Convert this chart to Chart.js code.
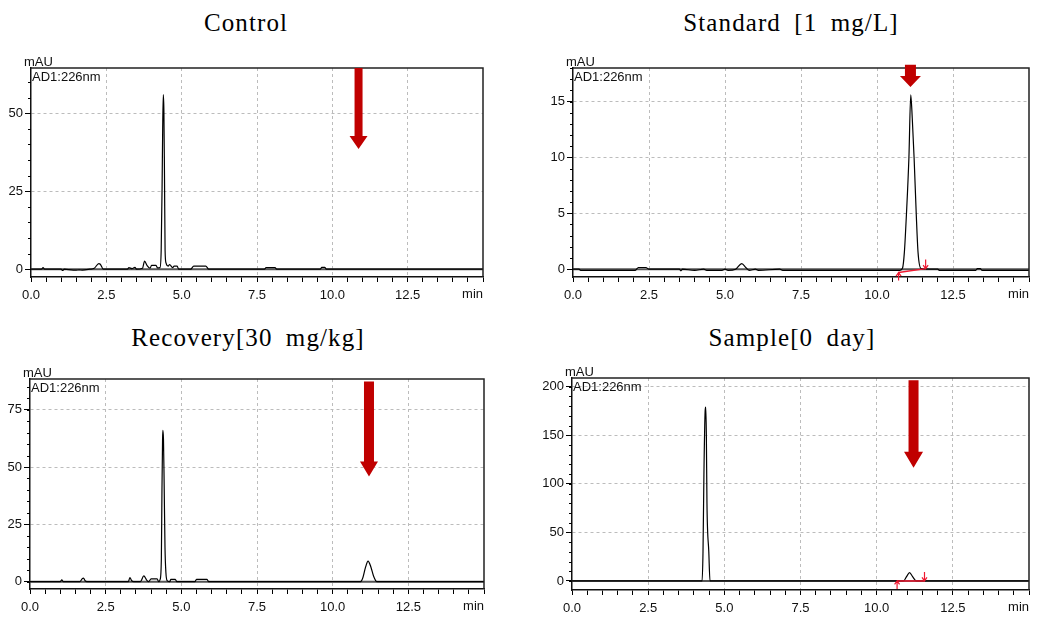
<!DOCTYPE html>
<html><head><meta charset="utf-8">
<script src="https://cdn.jsdelivr.net/npm/chart.js@4/dist/chart.umd.min.js"></script>
<style>
body{margin:0;width:1052px;height:625px;background:#fff;position:relative;overflow:hidden}
.t{position:absolute;font-family:'Liberation Serif','Times New Roman',serif;font-size:25px;letter-spacing:1.1px;word-spacing:6px;color:#000;white-space:nowrap;transform:translateX(-50%);line-height:28px}
canvas{position:absolute}
</style></head><body>
<div class="t" id="t0" style="left:246px;top:9px"></div>
<div class="t" id="t1" style="left:791px;top:9px"></div>
<div class="t" id="t2" style="left:248px;top:324px"></div>
<div class="t" id="t3" style="left:792px;top:324px"></div>
<canvas id="c0" width="500" height="272" style="left:0;top:40px"></canvas>
<canvas id="c1" width="522" height="272" style="left:530px;top:40px"></canvas>
<canvas id="c2" width="500" height="273" style="left:0;top:352px"></canvas>
<canvas id="c3" width="522" height="273" style="left:530px;top:352px"></canvas>
<script>
// ---- text ----
const panelTitles = ['Control', 'Standard [1 mg/L]', 'Recovery[30 mg/kg]', 'Sample[0 day]'];
const detectorLabel = 'AD1:226nm';
const yUnit = 'mAU';
const xUnit = 'min';

// ---- x axis (minutes) ----
const xRange = [0, 15];
const xMajorValues = [0, 2.5, 5, 7.5, 10, 12.5];
const xTickLabels = ['0.0', '2.5', '5.0', '7.5', '10.0', '12.5'];
const xMinorStep = 0.5;

// ---- y axes ----
const yRangeControl = [-2.5, 64.5];
const yTicksControl = [0, 25, 50];
const yRangeStandard = [-0.7, 18];
const yTicksStandard = [0, 5, 10, 15];
const yRangeRecovery = [-3.2, 88.4];
const yTicksRecovery = [0, 25, 50, 75];
const yRangeSample = [-9.3, 209];
const yTicksSample = [0, 50, 100, 150, 200];
const yMinorSteps = [5, 1, 5, 10];

// ---- chromatograms (time in min, signal in mAU) ----
const timeControl = [0, 0.35, 0.4, 0.45, 1.0, 1.05, 1.1, 1.4, 1.5, 1.6,
  1.7, 1.95, 2.1, 2.25, 2.3, 2.4, 3.2, 3.25, 3.35, 3.45,
  3.5, 3.7, 3.77, 3.85, 3.95, 4.0, 4.15, 4.2, 4.28, 4.32,
  4.35, 4.37, 4.39, 4.41, 4.43, 4.45, 4.48, 4.55, 4.6, 4.7,
  4.75, 4.85, 4.9, 5.3, 5.4, 5.8, 5.9, 7.75, 7.8, 8.1,
  8.15, 9.6, 9.65, 9.75, 9.8, 15];
const mauControl = [0, 0, 0.5, 0, 0, -0.4, 0, -0.3, -0.3, -0.2,
  -0.3, 0, 0.3, 1.8, 1.6, 0, 0, 0.5, 0.2, 0.6,
  0, 0.3, 2.6, 1.2, 0.3, 1.2, 1.2, 0.4, 0.5, 6,
  26, 45, 56, 51, 30, 6, 2, 1, 1.5, 0.5,
  1.0, 1.0, 0, 0, 1.0, 1.0, 0, 0, 0.5, 0.5,
  0, 0, 0.6, 0.6, 0, 0];

const timeStandard = [0, 0.2, 0.25, 2.05, 2.15, 2.4, 2.5, 3.5, 3.55, 3.6,
  4.0, 4.3, 4.4, 4.9, 5.0, 5.1, 5.35, 5.55, 5.7, 5.8,
  6.0, 6.1, 6.8, 6.9, 10.75, 10.84, 10.9, 10.97, 11.05, 11.11,
  11.16, 11.22, 11.29, 11.35, 11.45, 12.0, 12.05, 13.25, 13.3, 13.4,
  13.45, 15];
const mauStandard = [0, 0, -0.1, -0.1, 0.15, 0.15, 0, 0, -0.15, 0,
  -0.1, 0, -0.1, -0.1, 0, -0.1, 0, 0.5, 0.1, -0.1,
  0, -0.1, 0, -0.1, -0.1, 0.1, 1.5, 5, 10, 15.6,
  13.5, 10, 5, 1.5, 0.05, 0, -0.1, -0.1, 0.05, 0.05,
  -0.1, -0.1];

const timeRecovery = [0, 1.0, 1.05, 1.1, 1.65, 1.72, 1.77, 1.82, 1.88, 3.25,
  3.3, 3.36, 3.42, 3.65, 3.76, 3.85, 3.92, 4.0, 4.2, 4.25,
  4.3, 4.34, 4.36, 4.38, 4.39, 4.41, 4.43, 4.46, 4.49, 4.53,
  4.62, 4.65, 4.8, 4.85, 5.45, 5.5, 5.85, 5.9, 10.92, 11.0,
  11.08, 11.17, 11.26, 11.35, 11.46, 15];
const mauRecovery = [0, 0, 0.8, 0, 0, 1.2, 1.5, 0.4, 0, 0,
  1.8, 0.4, 0, 0, 2.5, 0.8, 0, 1.2, 1.2, 0,
  1, 10, 40, 62, 66, 62, 45, 15, 4, 0.5,
  0, 1, 1, 0, 0, 1, 1, 0, 0, 1.8,
  6, 9, 6.5, 2.5, 0, 0];

const timeSample = [0, 4.27, 4.30, 4.33, 4.37, 4.39, 4.41, 4.43, 4.49, 4.53,
  10.88, 10.98, 11.08, 11.18, 11.3, 15];
const mauSample = [0, 0, 30, 110, 175, 179, 150, 80, 30, 0,
  0, 4.5, 8.5, 4.5, 0, 0];

// ---- annotations: red arrows (x in min, tip/top in mAU) ----
const arrowX = [10.87, 11.1, 11.2, 11.21];
const arrowTip = [38.5, 16.3, 45.9, 116.6];
const arrowTop = [64.5, 18.3, 87.3, 206.8];

// ---- integration baseline marks (Standard, Sample) ----
const integStart = [null, 10.71, null, 10.67];
const integStartY = [null, -0.3, null, 0];
const integEnd = [null, 11.6, null, 11.57];
const integEndY = [null, 0.05, null, 0];

// ---------------------------------------------------------------
const FONT = "'Liberation Sans Narrow','Arial Narrow','Liberation Sans',Arial,sans-serif";
const panelTimes = [timeControl, timeStandard, timeRecovery, timeSample];
const panelMAU = [mauControl, mauStandard, mauRecovery, mauSample];
const panelYRange = [yRangeControl, yRangeStandard, yRangeRecovery, yRangeSample];
const panelYTicks = [yTicksControl, yTicksStandard, yTicksRecovery, yTicksSample];
// layout (px) : y-axis width, x-axis height, top padding, right padding, arrow geometry
const layoutCfg = [
  {yW: 31, xH: 35, top: 28, right: 17, shaft: 8, head: 18, headLen: 13},
  {yW: 43, xH: 35, top: 28, right: 23, shaft: 11, head: 21, headLen: 11},
  {yW: 30, xH: 36, top: 27, right: 16, shaft: 10, head: 18, headLen: 15},
  {yW: 42, xH: 35, top: 26, right: 23, shaft: 10, head: 19, headLen: 16}
];

const xAllTicks = [];
for (let i = 0; i <= Math.round((xRange[1] - xRange[0]) / xMinorStep); i++) xAllTicks.push(xRange[0] + i * xMinorStep);

const decor = {
  id: 'decor',
  beforeDatasetsDraw(chart, args, o) {
    const {ctx, chartArea: a, scales: {y}} = chart;
    const y0 = y.getPixelForValue(0);
    ctx.save();
    ctx.strokeStyle = '#555'; ctx.lineWidth = 2;
    ctx.beginPath(); ctx.moveTo(a.left, y0); ctx.lineTo(a.right, y0); ctx.stroke();
    ctx.restore();
  },
  afterDraw(chart, args, o) {
    const {ctx, chartArea: a, scales: {x, y}} = chart;
    const k = o.k, L = layoutCfg[k];
    ctx.save();
    // frame top/right
    ctx.strokeStyle = '#222'; ctx.lineWidth = 1.5;
    ctx.beginPath(); ctx.moveTo(a.left, a.top); ctx.lineTo(a.right, a.top); ctx.lineTo(a.right, a.bottom); ctx.stroke();
    // minor y ticks
    ctx.strokeStyle = '#000'; ctx.lineWidth = 1;
    const st = yMinorSteps[k];
    const n0 = Math.ceil(y.min / st), n1 = Math.floor(y.max / st);
    for (let n = n0; n <= n1; n++) {
      const p = Math.round(y.getPixelForValue(n * st)) + 0.5;
      ctx.beginPath(); ctx.moveTo(a.left - 3, p); ctx.lineTo(a.left, p); ctx.stroke();
    }
    // texts
    ctx.fillStyle = '#111';
    ctx.font = '13px ' + FONT;
    ctx.textAlign = 'left'; ctx.textBaseline = 'alphabetic';
    ctx.fillText(yUnit, a.left - 7, a.top - 2);
    ctx.fillText(detectorLabel, a.left + 1, a.top + 13);
    ctx.textAlign = 'right'; ctx.textBaseline = 'top';
    ctx.fillText(xUnit, a.right, a.bottom + 11);
    // integration marks
    if (integStart[k] !== null) {
      const xs = x.getPixelForValue(integStart[k]), ys = y.getPixelForValue(integStartY[k]);
      const xe = x.getPixelForValue(integEnd[k]), ye = y.getPixelForValue(integEndY[k]);
      ctx.strokeStyle = '#f01830'; ctx.lineWidth = 1.5;
      ctx.beginPath(); ctx.moveTo(xs, ys); ctx.lineTo(xe, ye); ctx.stroke();
      ctx.lineWidth = 1.2;
      ctx.beginPath();
      ctx.moveTo(xs, ys + 8); ctx.lineTo(xs, ys); ctx.moveTo(xs - 2.5, ys + 3.5); ctx.lineTo(xs, ys); ctx.lineTo(xs + 2.5, ys + 3.5);
      ctx.moveTo(xe, ye - 9); ctx.lineTo(xe, ye); ctx.moveTo(xe - 2.5, ye - 3.5); ctx.lineTo(xe, ye); ctx.lineTo(xe + 2.5, ye - 3.5);
      ctx.stroke();
    }
    // red arrow
    const cx = x.getPixelForValue(arrowX[k]);
    const tip = y.getPixelForValue(arrowTip[k]);
    const top = y.getPixelForValue(arrowTop[k]);
    const sw = L.shaft / 2, hw = L.head / 2, hl = L.headLen;
    ctx.fillStyle = '#C00000';
    ctx.beginPath();
    ctx.moveTo(cx - sw, top); ctx.lineTo(cx + sw, top); ctx.lineTo(cx + sw, tip - hl);
    ctx.lineTo(cx + hw, tip - hl); ctx.lineTo(cx, tip); ctx.lineTo(cx - hw, tip - hl);
    ctx.lineTo(cx - sw, tip - hl); ctx.closePath(); ctx.fill();
    ctx.restore();
  }
};

function makeChart(k) {
  document.getElementById('t' + k).textContent = panelTitles[k];
  const L = layoutCfg[k];
  const ts = panelTimes[k], vs = panelMAU[k];
  const yt = panelYTicks[k];
  new Chart(document.getElementById('c' + k), {
    type: 'line',
    data: {datasets: [{
      data: ts.map((t, i) => ({x: t, y: vs[i]})),
      borderColor: '#000', borderWidth: 1.2, pointRadius: 0,
      cubicInterpolationMode: 'monotone', fill: false
    }]},
    options: {
      responsive: false, animation: false, events: [],
      layout: {padding: {top: L.top, right: L.right, left: 0, bottom: 0}},
      plugins: {legend: {display: false}, tooltip: {enabled: false}, decor: {k: k}},
      scales: {
        x: {
          type: 'linear', min: xRange[0], max: xRange[1],
          afterBuildTicks: s => { s.ticks = xAllTicks.map(v => ({value: v})); },
          afterFit: s => { s.height = L.xH; },
          ticks: {autoSkip: false, maxRotation: 0, minRotation: 0, padding: 6, color: '#111',
            font: {family: FONT, size: 13},
            callback: v => { const i = xMajorValues.indexOf(v); return i >= 0 ? xTickLabels[i] : ''; }},
          grid: {
            color: c => (c.tick && xMajorValues.includes(c.tick.value) && c.tick.value > xRange[0]) ? '#bcbcbc' : 'rgba(0,0,0,0)',
            tickColor: '#000', tickLength: 5, lineWidth: 1, tickBorderDash: []
          },
          border: {color: '#111', width: 1.5, dash: [3, 3]}
        },
        y: {
          type: 'linear', min: panelYRange[k][0], max: panelYRange[k][1],
          afterBuildTicks: s => { s.ticks = yt.map(v => ({value: v})); },
          afterFit: s => { s.width = L.yW; },
          ticks: {autoSkip: false, padding: 2, color: '#111', font: {family: FONT, size: 13},
            callback: v => String(v)},
          grid: {
            color: c => (c.tick && c.tick.value !== 0) ? '#bcbcbc' : 'rgba(0,0,0,0)',
            tickColor: '#000', tickLength: 6, lineWidth: 1, tickBorderDash: []
          },
          border: {color: '#111', width: 1.5, dash: [3, 3]}
        }
      }
    },
    plugins: [decor]
  });
}
for (let k = 0; k < 4; k++) makeChart(k);
</script>
</body></html>
